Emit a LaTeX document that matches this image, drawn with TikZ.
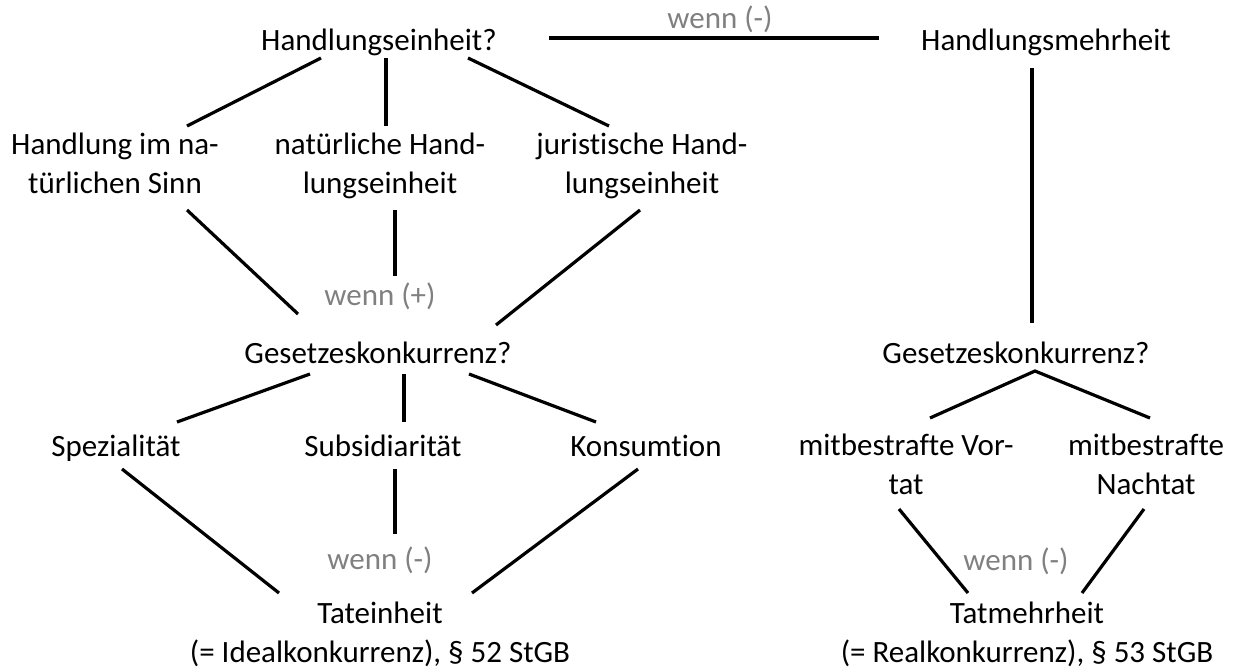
\documentclass[tikz,border=0pt]{standalone}
\usepackage{fontspec}
\setmainfont{Carlito}[Ligatures=NoCommon]
\usepackage{tikz}
\usetikzlibrary{positioning}

\begin{document}
\begin{tikzpicture}[
    x=1pt, y=-1pt,
    every node/.style={font=\fontsize{31}{39}\selectfont},
    term/.style={
        anchor=base,
        align=center,
        inner sep=0pt
    },
    cond/.style={
        term,
        text=black!50
    },
    link/.style={
        line width=3.2pt,
        black
    }
]
\useasboundingbox (0,0) rectangle (1235,670);
% TOP ROW
\node (he) [term] at (379,50) {Handlungseinheit?};
\node (hm) [term] at (1046,50) {Handlungsmehrheit};
% SECOND ROW (base = last line)
\node (hns) [term] at (115,193) {Handlung im na-\\türlichen Sinn};
\node (nhe) [term] at (380,193) {natürliche Hand-\\lungseinheit};
\node (jhe) [term] at (642,193) {juristische Hand-\\lungseinheit};
\node (wplus) [cond] at (380,305) {wenn (+)};
% GESETZESKONKURRENZ
\node (gk1) [term] at (378,363) {Gesetzeskonkurrenz?};
\node (gk2) [term] at (1016,363) {Gesetzeskonkurrenz?};
% THIRD ROW
\node (spez) [term] at (116,456) {Spezialität};
\node (subs) [term] at (383,456) {Subsidiarität};
\node (kons) [term] at (646,456) {Konsumtion};
\node (mvt) [term] at (906,494) {mitbestrafte Vor-\\tat};
\node (mnt) [term] at (1146,494) {mitbestrafte\\Nachtat};
\node (wml) [cond] at (380,569) {wenn (-)};
\node (wmr) [cond] at (1016,570) {wenn (-)};
% RESULTS
\node (tei) [term] at (380,662) {Tateinheit\\(= Idealkonkurrenz), § 52 StGB};
\node (tmh) [term] at (1027,662) {Tatmehrheit\\(= Realkonkurrenz), § 53 StGB};
% HANDLUNGSEINHEIT
\draw [link] ([xshift=-58pt,yshift=-8pt]he.base) -- ([xshift=72pt,yshift=67pt]hns.base);
\draw [link] ([xshift=7pt,yshift=-8pt]he.base) -- ([xshift=6pt,yshift=67pt]nhe.base);
\draw [link] ([xshift=89pt,yshift=-8pt]he.base) -- ([xshift=-33pt,yshift=67pt]jhe.base);
\draw [link] ([xshift=170pt,yshift=12pt]he.base) -- node[cond, anchor=south, above=4pt, xshift=6pt] {wenn (-)} ([xshift=-167pt,yshift=12pt]hm.base);
% HANDLUNGSMEHRHEIT
\draw [link] ([xshift=-14pt,yshift=-18pt]hm.base) -- ([xshift=16pt,yshift=40pt]gk2.base);
% TO GESETZESKONKURRENZ
\draw [link] ([xshift=72pt,yshift=-17pt]hns.base) -- ([xshift=-80pt,yshift=49pt]gk1.base);
\draw [link] ([xshift=15pt,yshift=-17pt]nhe.base) -- ([xshift=15pt,yshift=29pt]wplus.base);
\draw [link] ([xshift=-2pt,yshift=-17pt]jhe.base) -- ([xshift=118pt,yshift=38pt]gk1.base);
% LEFT BRANCHES
\draw [link] ([xshift=-68pt,yshift=-11pt]gk1.base) -- ([xshift=61pt,yshift=34pt]spez.base);
\draw [link] ([xshift=26pt,yshift=-11pt]gk1.base) -- ([xshift=21pt,yshift=34pt]subs.base);
\draw [link] ([xshift=91pt,yshift=-11pt]gk1.base) -- ([xshift=-50pt,yshift=34pt]kons.base);
% RIGHT BRANCHES
\draw [link] ([xshift=24pt,yshift=76pt]mvt.base) -- ([xshift=19pt,yshift=-8pt]gk2.base) -- ([xshift=4pt,yshift=76pt]mnt.base);
% TO TATEINHEIT
\draw [link] ([xshift=6pt,yshift=-13pt]spez.base) -- ([xshift=-101pt,yshift=69pt]tei.base);
\draw [link] ([xshift=12pt,yshift=-13pt]subs.base) -- ([xshift=15pt,yshift=35pt]wml.base);
\draw [link] ([xshift=-8pt,yshift=-13pt]kons.base) -- ([xshift=92pt,yshift=69pt]tei.base);
% TO TATMEHRHEIT
\draw [link] ([xshift=-7pt,yshift=-15pt]mvt.base) -- ([xshift=-59pt,yshift=69pt]tmh.base);
\draw [link] ([xshift=-2pt,yshift=-15pt]mnt.base) -- ([xshift=55pt,yshift=69pt]tmh.base);
\end{tikzpicture}
\end{document}
